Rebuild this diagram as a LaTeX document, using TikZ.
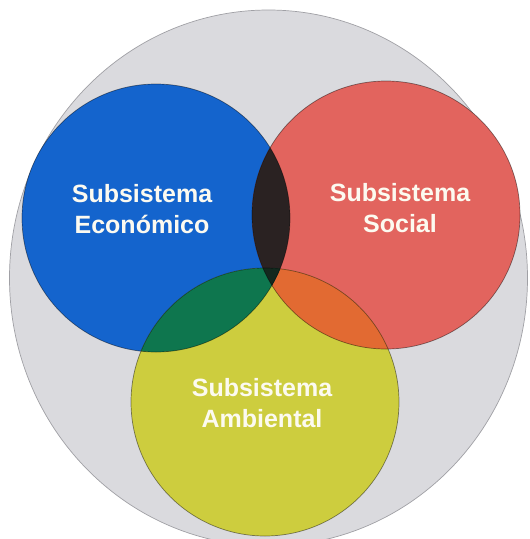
\documentclass[tikz,border=0pt]{standalone}
\usepackage{fontspec}
\setmainfont{Liberation Sans}
\definecolor{greyC}{RGB}{218,218,222}
\definecolor{greyLine}{RGB}{160,160,165}
\definecolor{blueC}{RGB}{20,100,205}
\definecolor{redC}{RGB}{226,100,94}
\definecolor{yellowC}{RGB}{205,205,62}
\definecolor{darkC}{RGB}{42,34,34}
\definecolor{greenC}{RGB}{14,118,78}
\definecolor{orangeC}{RGB}{226,106,50}
\definecolor{tripleC}{RGB}{20,40,30}
\definecolor{textC}{RGB}{252,250,240}
\tikzset{
  ring/.style={draw=black, draw opacity=0.45, line width=0.7pt},
  label/.style={text=textC, font=\fontsize{25}{31}\selectfont\bfseries, align=center, inner sep=0pt}
}
\begin{document}
\begin{tikzpicture}[x=1pt,y=-1pt]
\useasboundingbox (0,0) rectangle (530,539);
\clip (0,0) rectangle (530,539);
\fill[white] (0,0) rectangle (530,539);
\coordinate (G) at (268.5,278);
\coordinate (B) at (156,218);
\coordinate (R) at (386,215);
\coordinate (Y) at (265,402);
% big grey circle
\fill[greyC] (G) ellipse[x radius=259pt, y radius=268pt];
\draw[greyLine, line width=0.7pt] (G) ellipse[x radius=259pt, y radius=268pt];
% three circles
\fill[blueC] (B) circle[radius=134pt];
\fill[redC] (R) circle[radius=134pt];
\fill[yellowC] (Y) circle[radius=134pt];
% overlaps
\begin{scope}
  \clip (R) circle[radius=134pt];
  \fill[orangeC] (Y) circle[radius=134pt];
\end{scope}
\begin{scope}
  \clip (B) circle[radius=134pt];
  \fill[darkC] (R) circle[radius=134pt];
  \fill[greenC] (Y) circle[radius=134pt];
  \clip (R) circle[radius=134pt];
  \fill[tripleC] (Y) circle[radius=134pt];
\end{scope}
% outlines
\draw[ring] (B) circle[radius=134pt];
\draw[ring] (R) circle[radius=134pt];
\draw[ring] (Y) circle[radius=134pt];
% labels
\node[label] (econ) at (142,209) {Subsistema\\Económico};
\node[label] (soc) at (400,208) {Subsistema\\Social};
\node[label] (amb) at (262,403) {Subsistema\\Ambiental};
\end{tikzpicture}
\end{document}
